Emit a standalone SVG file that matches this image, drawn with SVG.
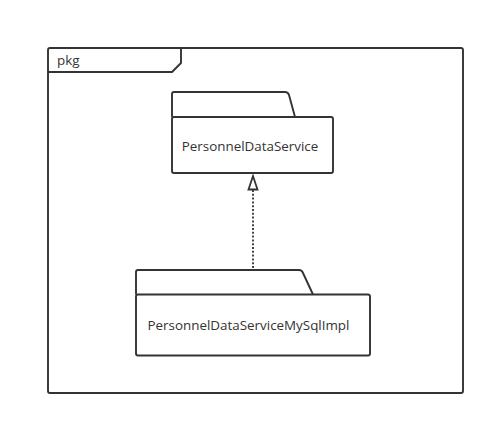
<svg xmlns="http://www.w3.org/2000/svg" width="495" height="426" viewBox="0 0 495 426">
<style>
.ln{fill:none;stroke:#333;stroke-width:1.9;stroke-linejoin:round}
.tx{font-family:"Open Sans","Liberation Sans",sans-serif;font-size:13.4px;fill:#333}
</style>
<rect width="495" height="426" fill="#fff"/>
<g id="pkg">
<rect class="ln" x="48" y="48" width="415" height="345" rx="2"/>
<path class="ln" d="M48 72 H172 L181 63 V48"/>
<text class="tx" x="57" y="65">pkg</text>
</g>
<g id="PersonnelDataService">
<path class="ln" d="M172 117 V94 Q172 92 174 92 H285 Q288 92 289 95 L295 117"/>
<rect class="ln" x="172" y="117" width="161" height="56" rx="2"/>
<text class="tx" x="250" y="150.5" text-anchor="middle">PersonnelDataService</text>
</g>
<g id="PersonnelDataServiceMySqlImpl">
<path class="ln" d="M136 294.5 V272 Q136 270 138 270 H299 Q302 270 303 273 L313 294.5"/>
<rect class="ln" x="136" y="294.5" width="234" height="61" rx="2"/>
<text class="tx" x="248.5" y="330" text-anchor="middle">PersonnelDataServiceMySqlImpl</text>
</g>
<g id="connectors">
<line x1="253" y1="190" x2="253" y2="270" stroke="#333" stroke-width="1.8" stroke-dasharray="2,1.8"/>
<path d="M253 176 L248.5 189.5 H257.5 Z" fill="#fff" stroke="#333" stroke-width="1.8" stroke-linejoin="miter"/>
</g>
</svg>
